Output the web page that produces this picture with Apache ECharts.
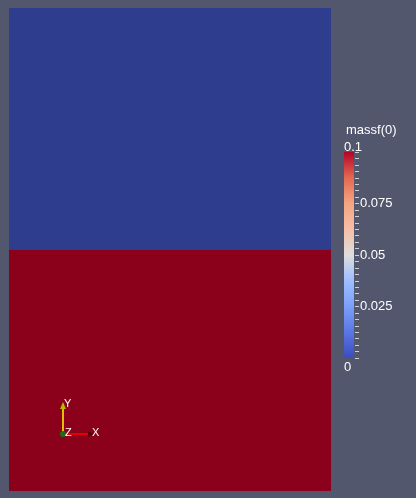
<!DOCTYPE html>
<html><head><meta charset="utf-8">
<script src="https://cdn.jsdelivr.net/npm/echarts@6/dist/echarts.min.js"></script>
<style>html,body{margin:0;padding:0;background:#52576e;}#c{width:416px;height:498px;}</style>
</head><body><div id="c"></div>
<script>
// Field regions: [xStart, xEnd, yStart, yEnd, massf(0) value] in normalized domain coords
const regionX0 = [0, 0];
const regionX1 = [1, 1];
const regionY0 = [0, 0.5];
const regionY1 = [0.5, 1];
const regionValue = [0.1, 0];
const regionColor = ['#8b001a', '#2f3d8e']; // shaded render colors
const fieldName = 'massf(0)';
const cbMin = 0, cbMax = 0.1, cbInterval = 0.025;
const tickLabels = ['0', '0.025', '0.05', '0.075', '0.1'];
const cmapColors = ['#3b4cc0','#5977e3','#7b9ff9','#9ebeff','#dddddd','#f6bfa6','#f4a582','#e26952','#b40426'];

const regions = regionValue.map((v,i)=>[regionX0[i],regionX1[i],regionY0[i],regionY1[i],v,i]);
const font = 'Liberation Sans';
const chart = echarts.init(document.getElementById('c'));
chart.setOption({
  backgroundColor: '#52576e',
  animation: false,
  title: { text: fieldName, left: 341, top: 119, textStyle: { color: '#ffffff', fontSize: 13, fontWeight: 'normal', fontFamily: font } },
  grid: [
    { left: 9, top: 8, width: 322, height: 483, outerBoundsMode: 'none' },
    { left: 344, top: 152, width: 10, height: 206, outerBoundsMode: 'none' },
    { left: 355, top: 152, width: 10, height: 206, outerBoundsMode: 'none' }
  ],
  xAxis: [
    { gridIndex: 0, type: 'value', min: 0, max: 1, show: false },
    { gridIndex: 1, type: 'value', min: 0, max: 1, show: false },
    { gridIndex: 2, type: 'value', min: 0, max: 1, show: false }
  ],
  yAxis: [
    { gridIndex: 0, type: 'value', min: 0, max: 1, show: false },
    { gridIndex: 1, type: 'value', min: cbMin, max: cbMax, show: false },
    { gridIndex: 2, type: 'value', position: 'left', min: cbMin, max: cbMax, interval: cbInterval, z: 5,
      axisLine: { show: false }, splitLine: { show: false },
      axisTick: { show: true, inside: true, length: 4, lineStyle: { color: '#d0d0d0', width: 1 } },
      minorTick: { show: true, splitNumber: 8, length: 4, lineStyle: { color: '#d0d0d0', width: 1 } },
      axisLabel: { inside: true, color: '#ffffff', fontSize: 13, fontFamily: font, margin: 5,
        formatter: (v) => { const i = Math.round((v - cbMin) / cbInterval); return (i === 0 || i === tickLabels.length - 1) ? '' : tickLabels[i]; } }
    }
  ],
  series: [
    { type: 'custom', xAxisIndex: 0, yAxisIndex: 0, data: regions,
      renderItem: (params, api) => {
        const p0 = api.coord([api.value(0), api.value(3)]);
        const p1 = api.coord([api.value(1), api.value(2)]);
        return { type: 'rect', shape: { x: p0[0], y: p0[1], width: p1[0]-p0[0], height: p1[1]-p0[1] },
          style: { fill: regionColor[api.value(5)] } };
      }
    },
    { type: 'custom', xAxisIndex: 1, yAxisIndex: 1, data: [[0, 1, cbMin, cbMax]],
      renderItem: (params, api) => {
        const p0 = api.coord([api.value(0), api.value(3)]);
        const p1 = api.coord([api.value(1), api.value(2)]);
        const stops = cmapColors.map((c, i) => ({ offset: 1 - i / (cmapColors.length - 1), color: c }));
        stops.reverse();
        return { type: 'rect', shape: { x: p0[0], y: p0[1], width: p1[0]-p0[0], height: p1[1]-p0[1] },
          style: { fill: new echarts.graphic.LinearGradient(0, 0, 0, 1, stops) } };
      }
    }
  ],
  graphic: [
    { type: 'text', left: 344, top: 141, z: 100, style: { text: tickLabels[tickLabels.length - 1], fill: '#ffffff', font: '13px Liberation Sans' } },
    { type: 'text', left: 344, top: 361, z: 100, style: { text: tickLabels[0], fill: '#ffffff', font: '13px Liberation Sans' } },
    { type: 'line', z: 100, shape: { x1: 63, y1: 434, x2: 63, y2: 404 }, style: { stroke: '#ffff00', lineWidth: 1.5 } },
    { type: 'polygon', z: 100, shape: { points: [[60,409],[66,409],[63,402]] }, style: { fill: '#b8b800' } },
    { type: 'line', z: 100, shape: { x1: 63, y1: 434, x2: 92, y2: 434 }, style: { stroke: '#ff0000', lineWidth: 1.5 } },
    { type: 'polygon', z: 100, shape: { points: [[88,431],[88,437],[94,434]] }, style: { fill: '#5a0000' } },
    { type: 'circle', z: 100, shape: { cx: 63, cy: 434, r: 3 }, style: { fill: '#1e6b1e' } },
    { type: 'text', z: 100, left: 64, top: 398, style: { text: 'Y', fill: '#ffffff', font: '11px Liberation Sans' } },
    { type: 'text', z: 100, left: 92, top: 427, style: { text: 'X', fill: '#ffffff', font: '11px Liberation Sans' } },
    { type: 'text', z: 100, left: 65, top: 427, style: { text: 'Z', fill: '#ffffff', font: '11px Liberation Sans' } }
  ]
});
</script></body></html>
